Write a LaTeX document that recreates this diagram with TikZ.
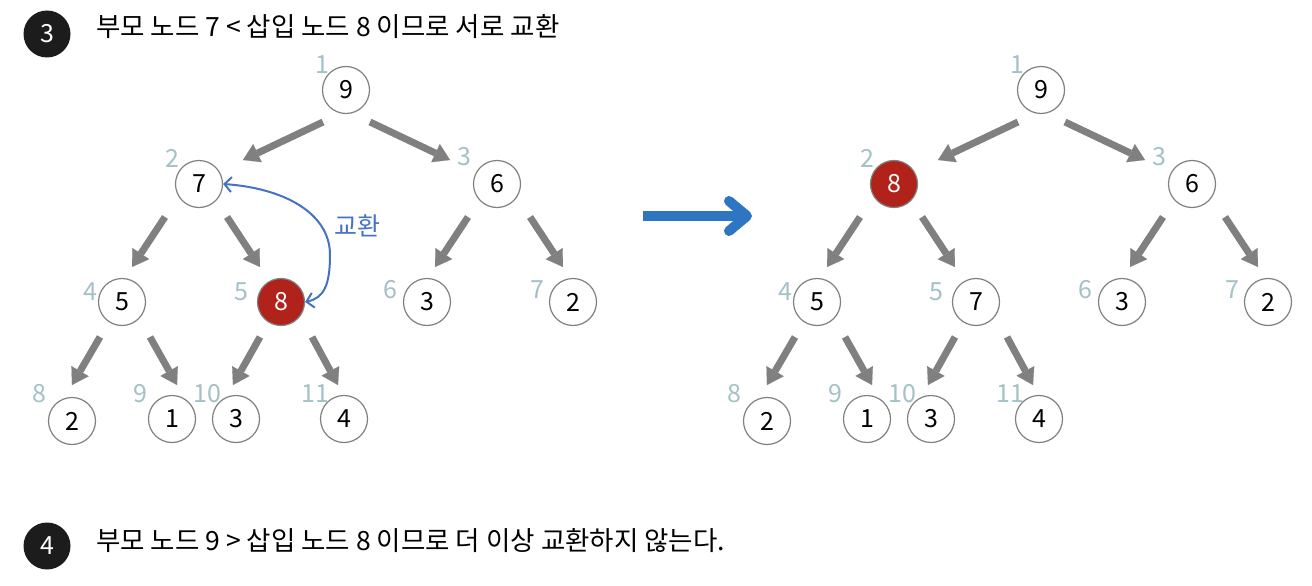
\documentclass[tikz,border=0pt]{standalone}
\usepackage{fontspec}
\setmainfont{Noto Sans CJK KR}
\usetikzlibrary{arrows.meta,calc}
\definecolor{edgegray}{HTML}{808080}
\definecolor{idxcol}{HTML}{A3C1C7}
\definecolor{swapblue}{HTML}{4472C4}
\definecolor{bigblue}{HTML}{2E75C2}
\definecolor{hotred}{HTML}{B0221A}
\definecolor{badgecol}{HTML}{1C1C1C}
\tikzset{
  hnode/.style={circle, draw=edgegray, line width=1.2pt, fill=white, minimum size=47pt, inner sep=0pt, font=\fontsize{25pt}{29pt}\selectfont},
  hotnode/.style={hnode, fill=hotred, text=white},
  idx/.style={text=idxcol, font=\fontsize{25pt}{29pt}\selectfont, inner sep=0pt},
  edge/.style={draw=edgegray, line width=7pt, -{Triangle[length=16pt,width=20pt,line width=0.1pt]}},
  badge/.style={circle, fill=badgecol, minimum size=47pt, inner sep=0pt, text=white, font=\fontsize{25pt}{29pt}\selectfont},
  caption/.style={anchor=west, inner sep=0pt, font=\fontsize{26.5pt}{31pt}\selectfont},
  swaparrow/.style={draw=swapblue, line width=2pt, {Straight Barb[length=7pt,width=15pt]}-{Straight Barb[length=7pt,width=15pt]}},
  bigarrow/.style={draw=bigblue, line width=10pt, -{Straight Barb[length=18pt,width=30pt,round,line width=10pt]}},
}
\newcommand\heaptree[6]{%
  \node[hnode] (#1a) at (#2+346,90) {9};
  \node[#4] (#1b) at (#2+199,184) {#3};
  \node[hnode] (#1c) at (#2+497,184) {6};
  \node[hnode] (#1d) at (#2+122,302) {5};
  \node[#6] (#1e) at (#2+281,302) {#5};
  \node[hnode] (#1f) at (#2+427,302) {3};
  \node[hnode] (#1g) at (#2+573,302) {2};
  \node[hnode] (#1h) at (#2+72,421) {2};
  \node[hnode] (#1i) at (#2+172,419) {1};
  \node[hnode] (#1j) at (#2+236,419) {3};
  \node[hnode] (#1k) at (#2+344,419) {4};
  \node[idx] (#1la) at (#2+322,65) {1};
  \node[idx] (#1lb) at (#2+172,158) {2};
  \node[idx] (#1lc) at (#2+464,157) {3};
  \node[idx] (#1ld) at (#2+90,292) {4};
  \node[idx] (#1le) at (#2+241,292) {5};
  \node[idx] (#1lf) at (#2+390,290) {6};
  \node[idx] (#1lg) at (#2+537,290) {7};
  \node[idx] (#1lh) at (#2+39,394) {8};
  \node[idx] (#1li) at (#2+140,394) {9};
  \node[idx] (#1lj) at (#2+207,394) {10};
  \node[idx] (#1lk) at (#2+315,394) {11};
  \draw[edge] ($(#1a)+(-23,32)$) -- ($(#1b)+(44,-24)$);
  \draw[edge] ($(#1a)+(24,32)$) -- ($(#1c)+(-47,-24)$);
  \draw[edge] ($(#1b)+(-34,33)$) -- ($(#1d)+(10,-35)$);
  \draw[edge] ($(#1b)+(28,33)$) -- ($(#1e)+(-21,-35)$);
  \draw[edge] ($(#1c)+(-29,33)$) -- ($(#1f)+(8,-35)$);
  \draw[edge] ($(#1c)+(33,33)$) -- ($(#1g)+(-10,-35)$);
  \draw[edge] ($(#1d)+(-22,35)$) -- ($(#1h)+(0,-36)$);
  \draw[edge] ($(#1d)+(28,35)$) -- ($(#1i)+(5,-34)$);
  \draw[edge] ($(#1e)+(-21,35)$) -- ($(#1j)+(-3,-34)$);
  \draw[edge] ($(#1e)+(31,35)$) -- ($(#1k)+(-6,-34)$);
}
\begin{document}
\begin{tikzpicture}[x=1pt,y=-1pt]
  \useasboundingbox[fill=white] (0,0) rectangle (1312,586);
  % step badges and captions
  \node[badge] (b3) at (47,34) {3};
  \node[caption] (t3) at (96,27) {부모 노드 7 < 삽입 노드 8 이므로 서로 교환};
  \node[badge] (b4) at (47,546) {4};
  \node[caption] (t4) at (96,541) {부모 노드 9 > 삽입 노드 8 이므로 더 이상 교환하지 않는다.};
  % trees
  \heaptree{L}{0}{7}{hnode}{8}{hotnode}
  \heaptree{R}{695}{8}{hotnode}{7}{hnode}
  % swap arrow
  \draw[swaparrow] (Le.east) .. controls (324,298) and (330,285) .. (330,255)
        .. controls (330,212) and (282,188) .. (Lb.east);
  \node[text=swapblue, font=\fontsize{25pt}{29pt}\selectfont, inner sep=0pt] (swaplbl) at (357,226) {교환};
  % big arrow
  \coordinate (bigS) at (643,216);
  \coordinate (bigE) at (752,216);
  \draw[bigarrow] (bigS) -- (bigE);
\end{tikzpicture}
\end{document}
